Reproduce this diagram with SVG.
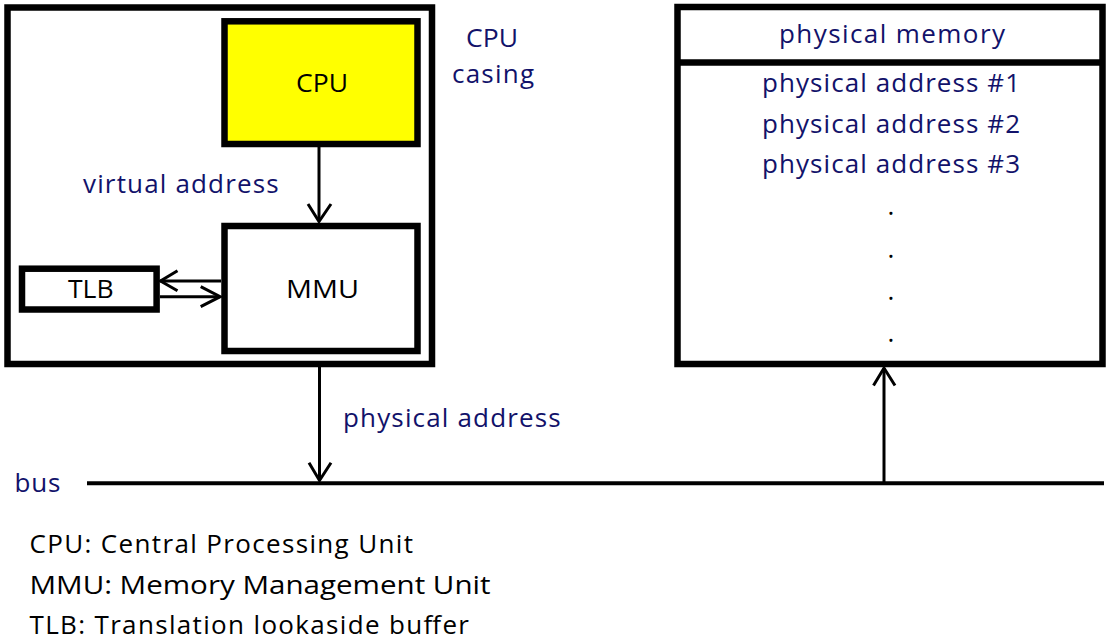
<svg xmlns="http://www.w3.org/2000/svg" width="1110" height="642" viewBox="0 0 1110 642">
<style>
  .box { fill: #fff; stroke: #000; stroke-width: 6.5; }
  .cpu { fill: #ffff00; stroke: #000; stroke-width: 6.5; }
  .ln { stroke: #000; stroke-width: 3; fill: none; }
  .hd { stroke: #000; stroke-width: 3; fill: none; stroke-linecap: butt; }
  text { font-family: "Open Sans", "Noto Sans", sans-serif; font-size: 26px; }
  .k { fill: #000; }
  .b { fill: #12126a; }
  .m { text-anchor: middle; }
</style>
<rect width="1110" height="642" fill="#fff"/>
<g id="cpu-casing">
  <rect class="box" x="7.5" y="7.5" width="424.5" height="356.5"/>
  <text class="b" x="466" y="46.5" textLength="52" lengthAdjust="spacingAndGlyphs">CPU</text>
  <text class="b" x="452" y="83" textLength="82" lengthAdjust="spacing">casing</text>
</g>
<g id="cpu">
  <rect class="cpu" x="224.5" y="21.3" width="193" height="122.7"/>
  <text class="k" x="296" y="91.7" textLength="52" lengthAdjust="spacingAndGlyphs">CPU</text>
</g>
<g id="mmu">
  <rect class="box" x="224.5" y="226" width="193" height="125"/>
  <text class="k" x="286" y="298.3" textLength="73" lengthAdjust="spacingAndGlyphs">MMU</text>
</g>
<g id="tlb">
  <rect class="box" x="22" y="268.7" width="134.6" height="40.8"/>
  <text class="k" x="68" y="297.7" textLength="45.6" lengthAdjust="spacingAndGlyphs">TLB</text>
</g>
<g id="physical-memory">
  <rect class="box" x="677.5" y="7" width="425" height="357"/>
  <line x1="677.5" y1="62.5" x2="1102.5" y2="62.5" stroke="#000" stroke-width="6.5"/>
  <text class="b" x="779" y="43.3" textLength="226" lengthAdjust="spacing">physical memory</text>
  <text class="b" x="762" y="92.3" textLength="258" lengthAdjust="spacing">physical address #1</text>
  <text class="b" x="762" y="133.3" textLength="258" lengthAdjust="spacing">physical address #2</text>
  <text class="b" x="762" y="173.3" textLength="258" lengthAdjust="spacing">physical address #3</text>
  <text class="k m" x="891" y="215">.</text>
  <text class="k m" x="891" y="258">.</text>
  <text class="k m" x="891" y="300">.</text>
  <text class="k m" x="891" y="342">.</text>
</g>
<g id="bus">
  <line x1="87" y1="483.3" x2="1104" y2="483.3" stroke="#000" stroke-width="4"/>
  <text class="b" x="14.5" y="492" textLength="46" lengthAdjust="spacing">bus</text>
</g>
<g id="connectors">
  <line class="ln" x1="319" y1="147" x2="319" y2="221"/>
  <polyline class="hd" points="308,204 319,221.5 331,204"/>
  <line class="ln" x1="160" y1="281" x2="221" y2="281"/>
  <polyline class="hd" points="177.5,270.7 160.5,281 177.5,290.7"/>
  <line class="ln" x1="160" y1="296.7" x2="220" y2="296.7"/>
  <polyline class="hd" points="200.7,286.7 220.2,296.7 200.7,306.7"/>
  <line class="ln" x1="319.5" y1="367" x2="319.5" y2="481"/>
  <polyline class="hd" points="309,462.7 319.5,480.5 331,462.7"/>
  <line class="ln" x1="884" y1="482" x2="884" y2="368"/>
  <polyline class="hd" points="873.5,385.5 884,368 895,385.5"/>
</g>
<g id="labels">
  <text class="b" x="83" y="193.3" textLength="195.6" lengthAdjust="spacing">virtual address</text>
  <text class="b" x="343" y="426.7" textLength="217.7" lengthAdjust="spacing">physical address</text>
</g>
<g id="legend">
  <text class="k" x="29.5" y="553.3" textLength="383.5" lengthAdjust="spacing">CPU: Central Processing Unit</text>
  <text class="k" x="29.5" y="594" textLength="461" lengthAdjust="spacingAndGlyphs">MMU: Memory Management Unit</text>
  <text class="k" x="29.5" y="634" textLength="439.5" lengthAdjust="spacing">TLB: Translation lookaside buffer</text>
</g>
</svg>
